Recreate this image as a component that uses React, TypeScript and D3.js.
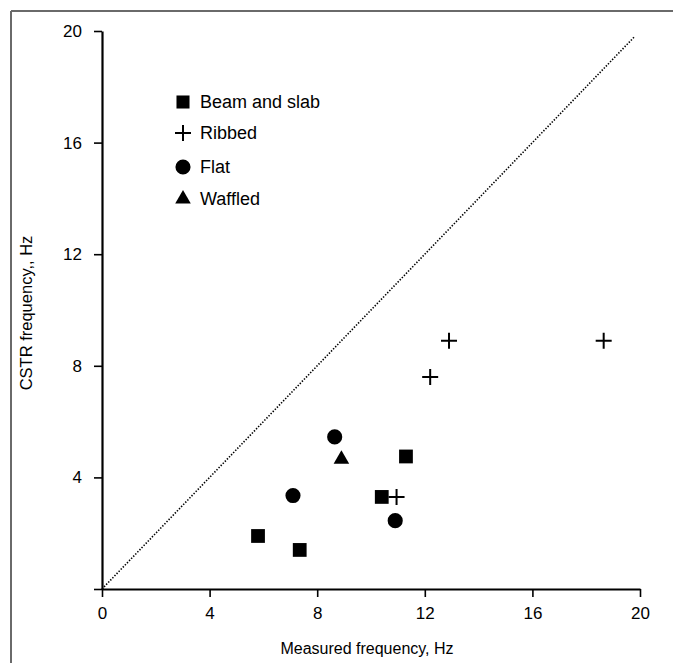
import * as d3 from 'd3';
import {useEffect, useRef} from 'react';

// values
const beamSlabX = [5.8, 7.35, 10.4, 11.3];
const beamSlabY = [1.9, 1.4, 3.3, 4.75];
const ribbedX = [10.95, 12.2, 12.9, 18.65];
const ribbedY = [3.3, 7.6, 8.9, 8.9];
const flatX = [7.1, 8.65, 10.9];
const flatY = [3.35, 5.45, 2.45];
const waffledX = [8.9];
const waffledY = [4.65];
const lineEnd = 19.8;
const xTicks = [0, 4, 8, 12, 16, 20];
const yTicks = [0, 4, 8, 12, 16, 20];
const legendLabels = ['Beam and slab', 'Ribbed', 'Flat', 'Waffled'];

const FONT = '"Liberation Sans", Arial, Helvetica, sans-serif';

const App = () => {
    const ref = useRef<SVGSVGElement>(null);

    useEffect(() => {
        const width = 673;
        const height = 663;
        const svg = d3.select(ref.current);
        svg.selectAll('*').remove();
        svg.attr('width', width).attr('height', height);

        // frame (only top and left visible)
        svg.append('line').attr('x1', 11).attr('y1', 11).attr('x2', width).attr('y2', 11)
            .attr('stroke', '#6a6a6a').attr('stroke-width', 2);
        svg.append('line').attr('x1', 11).attr('y1', 11).attr('x2', 11).attr('y2', height)
            .attr('stroke', '#6a6a6a').attr('stroke-width', 2);

        const x = d3.scaleLinear().domain([0, 20]).range([102, 640]);
        const y = d3.scaleLinear().domain([0, 20]).range([589, 31]);

        // axes
        const xAxis = svg.append('g')
            .attr('transform', `translate(0,${y(0)})`)
            .call(d3.axisBottom(x).tickValues(xTicks).tickSize(8).tickSizeOuter(0).tickPadding(10));
        const yAxis = svg.append('g')
            .attr('transform', `translate(${x(0)},0)`)
            .call(d3.axisLeft(y).tickValues(yTicks).tickSize(8).tickSizeOuter(0).tickPadding(12)
                .tickFormat(d => (d === 0 ? '' : String(d))));

        [xAxis, yAxis].forEach(g => {
            g.select('.domain').attr('stroke', '#000').attr('stroke-width', 2.2);
            g.selectAll('.tick line').attr('stroke', '#000').attr('stroke-width', 1.6);
            g.selectAll('.tick text').attr('fill', '#000')
                .style('font-family', FONT).style('font-size', '17px');
        });

        // axis titles
        svg.append('text')
            .attr('x', 367).attr('y', 654)
            .attr('text-anchor', 'middle')
            .style('font-family', FONT).style('font-size', '16px')
            .text('Measured frequency, Hz');
        svg.append('text')
            .attr('transform', `translate(32,313) rotate(-90)`)
            .attr('text-anchor', 'middle')
            .style('font-family', FONT).style('font-size', '16.5px')
            .text('CSTR frequency,, Hz');

        // 1:1 dotted line
        svg.append('line')
            .attr('x1', x(0)).attr('y1', y(0))
            .attr('x2', x(lineEnd)).attr('y2', y(lineEnd))
            .attr('stroke', '#000').attr('stroke-width', 1.6)
            .attr('stroke-dasharray', '1.4,1.6');

        const square = d3.symbol().type(d3.symbolSquare).size(190)();
        const circle = d3.symbol().type(d3.symbolCircle).size(180)();
        const triangle = d3.symbol().type(d3.symbolTriangle).size(105)();
        const plus = 'M-8,0H8M0,-8V8';

        const drawSeries = (xs: number[], ys: number[], path: string | null, filled: boolean) => {
            svg.append('g').selectAll('path')
                .data(xs.map((v, i) => [v, ys[i]]))
                .enter().append('path')
                .attr('d', path)
                .attr('transform', d => `translate(${x(d[0])},${y(d[1])})`)
                .attr('fill', filled ? '#000' : 'none')
                .attr('stroke', filled ? 'none' : '#000')
                .attr('stroke-width', filled ? 0 : 2);
        };

        drawSeries(beamSlabX, beamSlabY, square, true);
        drawSeries(flatX, flatY, circle, true);
        drawSeries(waffledX, waffledY, triangle, true);
        drawSeries(ribbedX, ribbedY, plus, false);

        // legend
        const legendSymbols = [square, plus, circle, triangle];
        const legendRows = [102, 133, 167, 199];
        const legend = svg.append('g');
        legendLabels.forEach((label, i) => {
            const isPlus = i === 1;
            legend.append('path')
                .attr('d', i === 0 ? d3.symbol().type(d3.symbolSquare).size(170)() : legendSymbols[i])
                .attr('transform', `translate(183,${legendRows[i]})`)
                .attr('fill', isPlus ? 'none' : '#000')
                .attr('stroke', isPlus ? '#000' : 'none')
                .attr('stroke-width', isPlus ? 2 : 0);
            legend.append('text')
                .attr('x', 200).attr('y', legendRows[i])
                .attr('dy', '0.35em')
                .style('font-family', FONT).style('font-size', '18px')
                .text(label);
        });
    }, []);

    return (
        <svg ref={ref} style={{position: 'absolute', left: 0, top: 0, background: '#fff'}} />
    );
};

export default App;
